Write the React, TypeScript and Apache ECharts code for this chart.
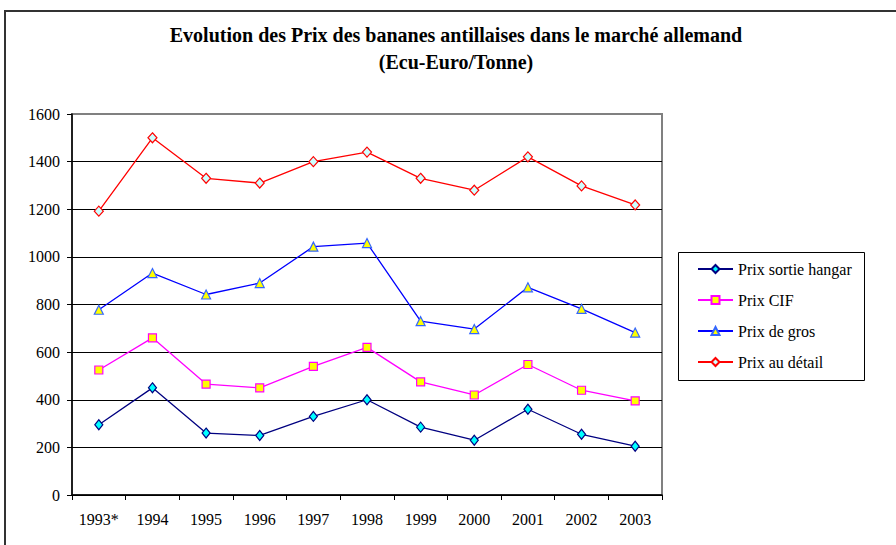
import React, { useEffect, useRef } from "react";
import * as echarts from "echarts";

const years = ["1993*", "1994", "1995", "1996", "1997", "1998", "1999", "2000", "2001", "2002", "2003"];
const prixSortieHangar = [295, 450, 260, 250, 330, 400, 285, 230, 360, 255, 205];
const prixCIF = [525, 660, 466, 450, 540, 620, 475, 420, 548, 440, 395];
const prixDeGros = [778, 932, 842, 890, 1043, 1058, 730, 697, 872, 782, 682];
const prixAuDetail = [1192, 1500, 1330, 1310, 1400, 1440, 1330, 1280, 1420, 1298, 1218];
const seriesNames = ["Prix sortie hangar", "Prix CIF", "Prix de gros", "Prix au détail"];
const titleText = "Evolution des Prix des bananes antillaises dans le marché allemand\n(Ecu-Euro/Tonne)";

const FONT = "Liberation Serif";

export default function App() {
  const ref = useRef<HTMLDivElement>(null);
  useEffect(() => {
    document.body.style.margin = "0";
    const chart = echarts.init(ref.current!, null, { renderer: "svg" });
    const mk = (
      name: string,
      data: number[],
      line: string,
      fill: string,
      border: string,
      symbol: string,
      size: number | number[]
    ) => ({
      name,
      type: "line",
      data,
      symbol,
      symbolSize: size,
      lineStyle: { color: line, width: 1.3 },
      itemStyle: { color: fill, borderColor: border, borderWidth: 1.2 },
      emphasis: { disabled: true },
      z: 3,
    });
    chart.setOption({
      animation: false,
      textStyle: { fontFamily: FONT },
      title: {
        text: titleText,
        left: 456,
        top: 21,
        padding: 0,
        textAlign: "center",
        textStyle: {
          fontFamily: FONT,
          fontWeight: "bold",
          fontSize: 20,
          lineHeight: 27,
          color: "#000",
        },
      },
      graphic: [
        {
          type: "rect",
          shape: { x: 5, y: 11, width: 1000, height: 1000 },
          style: { fill: "none", stroke: "#333", lineWidth: 2 },
          silent: true,
        },
        {
          type: "rect",
          shape: { x: 678.5, y: 252.5, width: 186, height: 128 },
          style: { fill: "#fff", stroke: "#000", lineWidth: 1 },
          silent: true,
          z: 1,
        },
      ],
      legend: {
        orient: "vertical",
        left: 697,
        top: 261,
        padding: 0,
        itemWidth: 35,
        itemHeight: 10,
        itemGap: 15,
        data: seriesNames,
        textStyle: { fontFamily: FONT, fontSize: 16, lineHeight: 16, color: "#000" },
        z: 5,
      },
      grid: {
        left: 72,
        top: 114,
        right: 234,
        bottom: 50,
        show: true,
        borderColor: "#808080",
        borderWidth: 2,
        backgroundColor: "transparent",
      },
      xAxis: {
        type: "category",
        data: years,
        boundaryGap: true,
        axisLine: { lineStyle: { color: "#000", width: 1.5 } },
        axisTick: { show: true, inside: false, length: 5, alignWithLabel: false, lineStyle: { color: "#000" } },
        axisLabel: { fontFamily: FONT, fontSize: 16, color: "#000", margin: 16, interval: 0 },
        splitLine: { show: false },
      },
      yAxis: {
        type: "value",
        min: 0,
        max: 1600,
        interval: 200,
        axisLine: { show: true, lineStyle: { color: "#000", width: 1.5 } },
        axisTick: { show: true, inside: false, length: 5, lineStyle: { color: "#000" } },
        axisLabel: {
          fontFamily: FONT,
          fontSize: 16,
          color: "#000",
          margin: 12,
          formatter: (v: number) => String(v),
        },
        splitLine: {
          show: true,
          lineStyle: {
            color: ["#000", "#000", "#000", "#000", "#000", "#000", "#000", "#000", "#808080"],
            width: 1,
          },
        },
      },
      series: [
        mk(seriesNames[0], prixSortieHangar, "#000080", "#00FFFF", "#000080", "diamond", [8, 10]),
        mk(seriesNames[1], prixCIF, "#FF00FF", "#FFFF00", "#FF00FF", "rect", 8),
        mk(seriesNames[2], prixDeGros, "#0000FF", "#FFFF00", "#3366FF", "triangle", 9),
        mk(seriesNames[3], prixAuDetail, "#FF0000", "#CCFFFF", "#FF0000", "diamond", [9, 10]),
      ],
    });
    return () => chart.dispose();
  }, []);
  return <div ref={ref} style={{ width: 896, height: 545 }} />;
}
